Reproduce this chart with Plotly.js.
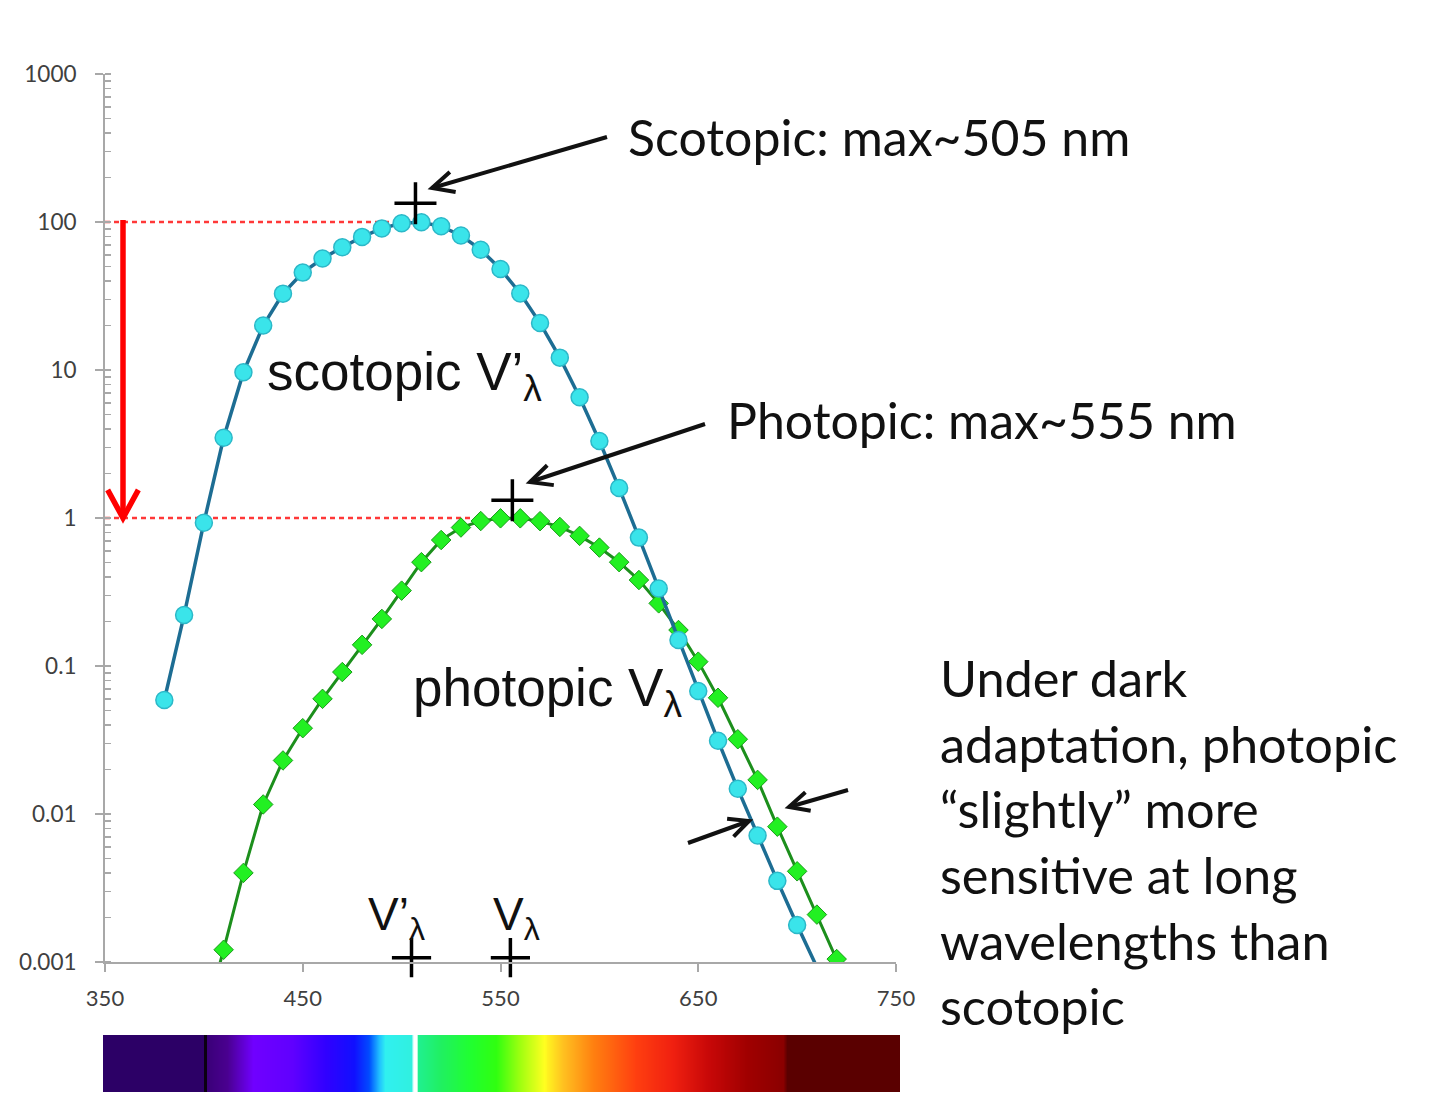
<!DOCTYPE html>
<html>
<head>
<meta charset="utf-8">
<script src="https://cdn.plot.ly/plotly-3.0.1.min.js"></script>
<style>html,body{margin:0;padding:0;background:#fff;}#chart{width:1440px;height:1108px;}</style>
</head>
<body>
<div id="chart"></div>
<script>
// ---------------- data ----------------
const scotopicWavelengths = [380,390,400,410,420,430,440,450,460,470,480,490,500,510,520,530,540,550,560,570,580,590,600,610,620,630,640,650,660,670,680,690,700,710,720];
const scotopicValues = [0.0589,0.2209,0.929,3.484,9.66,19.98,32.81,45.5,56.7,67.6,79.3,90.4,98.2,99.7,93.5,81.1,65.0,48.1,32.88,20.76,12.12,6.55,3.315,1.593,0.737,0.3335,0.1497,0.0677,0.03129,0.0148,0.00715,0.003533,0.00178,0.000914,0.000478];

const photopicWavelengths = [400,410,420,430,440,450,460,470,480,490,500,510,520,530,540,550,560,570,580,590,600,610,620,630,640,650,660,670,680,690,700,710,720,730];
const photopicValues = [0.000396,0.00121,0.0040,0.0116,0.023,0.038,0.060,0.091,0.139,0.208,0.323,0.503,0.710,0.862,0.954,0.995,0.995,0.952,0.870,0.757,0.631,0.503,0.381,0.265,0.175,0.107,0.061,0.032,0.017,0.00821,0.0041,0.00209,0.001047,0.00052];

const xTickVals = [350,450,550,650,750];
const yTickVals = [0.001,0.01,0.1,1,10,100,1000];
const yTickText = ["0.001","0.01","0.1","1","10","100","1000"];

// reference levels (dotted red lines)
const scotopicRefX = [350,502];
const scotopicRefY = [100,100];
const photopicRefX = [350,535];
const photopicRefY = [1,1];

// peak markers
const peakPlusX = [507,556];
const peakPlusY = [134,1.32];
const axisPlusX = [505,555];
const axisPlusY = [0.00107,0.00107];

// visible spectrum colour stops [nm, colour]
const spectrumStops = [
  [349,'#2c0066'],[400,'#2c0066'],[400.3,'#0a0010'],[401.5,'#0a0010'],[401.8,'#3a0078'],
  [412,'#4a0090'],[425,'#7000ff'],[445,'#6000ff'],[462,'#3000ff'],[476,'#1010ff'],
  [484,'#0050ff'],[489,'#20c0ff'],[492,'#30f0f0'],[505,'#30f0e0'],[506.2,'#ffffff'],
  [507.8,'#ffffff'],[508.4,'#20f090'],[520,'#20f060'],[535,'#20ff30'],[548,'#30ff10'],
  [560,'#a0ff10'],[572,'#ffff20'],[582,'#ffc020'],[597,'#ff8010'],[618,'#ff4010'],
  [637,'#f02010'],[655,'#c80808'],[675,'#a00000'],[693,'#8a0000'],[695,'#5a0000'],[752,'#5a0000']
];

// ---------------- layout helpers ----------------
const ML = 103, MR = 540, MT = 74, MB = 16;
const W = 1440 - ML - MR, H = 1108 - MT - MB;
const px = x => (x - ML) / W;
const py = y => 1 - (y - MT) / H;

function arrow(x1, y1, x2, y2, color, width, head, spread) {
  const ang = Math.atan2(y2 - y1, x2 - x1);
  const a1 = ang + Math.PI - spread, a2 = ang + Math.PI + spread;
  const hx1 = x2 + head * Math.cos(a1), hy1 = y2 + head * Math.sin(a1);
  const hx2 = x2 + head * Math.cos(a2), hy2 = y2 + head * Math.sin(a2);
  return [
    {type:'line', xref:'paper', yref:'paper', x0:px(x1), y0:py(y1), x1:px(x2), y1:py(y2),
     line:{color:color, width:width}},
    {type:'path', xref:'paper', yref:'paper',
     path:`M ${px(hx1)},${py(hy1)} L ${px(x2)},${py(y2)} L ${px(hx2)},${py(hy2)}`,
     line:{color:color, width:width}}
  ];
}

const spMin = spectrumStops[0][0], spMax = spectrumStops[spectrumStops.length-1][0];
const spectrumScale = spectrumStops.map(s => [(s[0]-spMin)/(spMax-spMin), s[1]]);
const spectrumX = [];
for (let v = spMin; v <= spMax; v += 0.5) spectrumX.push(v);

// ---------------- traces ----------------
const traces = [
  {x: spectrumX, y: [0], z: [spectrumX], type:'heatmap', xaxis:'x2', yaxis:'y2',
   colorscale: spectrumScale, zmin: spMin, zmax: spMax, showscale:false, hoverinfo:'skip'},
  {x: scotopicRefX, y: scotopicRefY, mode:'lines', line:{color:'#ff3838', width:2.5, dash:'5px,4px'}, hoverinfo:'skip'},
  {x: photopicRefX, y: photopicRefY, mode:'lines', line:{color:'#ff3838', width:2.5, dash:'5px,4px'}, hoverinfo:'skip'},
  {name:'photopic', x: photopicWavelengths, y: photopicValues, mode:'lines+markers',
   line:{color:'#1c8f1c', width:3},
   marker:{symbol:'diamond', size:15, color:'#22f022', line:{color:'#1a9a1a', width:1}}},
  {name:'scotopic', x: scotopicWavelengths, y: scotopicValues, mode:'lines+markers',
   line:{color:'#1d6d93', width:3.5},
   marker:{symbol:'circle', size:17, color:'#3ae4ea', line:{color:'#2cb8c8', width:1.5}}},
  {x: peakPlusX, y: peakPlusY, mode:'markers', cliponaxis:false, hoverinfo:'skip',
   marker:{symbol:'cross-thin', size:30, line:{color:'#000', width:3.5}}},
  {x: axisPlusX, y: axisPlusY, mode:'markers', cliponaxis:false, hoverinfo:'skip',
   marker:{symbol:'cross-thin', size:28, line:{color:'#000', width:3.5}}}
];

// ---------------- annotations / shapes ----------------
const calibri = 'Lato, "Open Sans", sans-serif';
const arial = '"Liberation Sans", Arial, sans-serif';
const annotations = [
  {text:'Scotopic: max~505 nm', xref:'paper', yref:'paper', x:px(626), y:py(137), xanchor:'left', yanchor:'middle',
   showarrow:false, font:{family:calibri, size:50, color:'#111'}},
  {text:'Photopic: max~555 nm', xref:'paper', yref:'paper', x:px(725), y:py(420), xanchor:'left', yanchor:'middle',
   showarrow:false, font:{family:calibri, size:50, color:'#111'}},
  {text:'Under dark<br>adaptation, photopic<br>\u201cslightly\u201d more<br>sensitive at long<br>wavelengths than<br>scotopic',
   xref:'paper', yref:'paper', x:px(938), y:py(841), xanchor:'left', yanchor:'middle', align:'left',
   showarrow:false, font:{family:calibri, size:50.5, color:'#111'}},
  {text:'scotopic V\u2019<sub>\u03bb</sub>', xref:'paper', yref:'paper', x:px(265), y:py(376), xanchor:'left', yanchor:'middle',
   showarrow:false, font:{family:arial, size:53, color:'#111'}},
  {text:'photopic V<sub>\u03bb</sub>', xref:'paper', yref:'paper', x:px(411), y:py(691), xanchor:'left', yanchor:'middle',
   showarrow:false, font:{family:arial, size:53, color:'#111'}},
  {text:'V\u2019<sub>\u03bb</sub>', xref:'paper', yref:'paper', x:px(366), y:py(917), xanchor:'left', yanchor:'middle',
   showarrow:false, font:{family:arial, size:46, color:'#111'}},
  {text:'V<sub>\u03bb</sub>', xref:'paper', yref:'paper', x:px(491), y:py(917), xanchor:'left', yanchor:'middle',
   showarrow:false, font:{family:arial, size:46, color:'#111'}}
];

const shapes = [].concat(
  arrow(607,137,432,188,'#111',4,24,0.45),
  arrow(705,424,530,482,'#111',4,24,0.45),
  arrow(848,790,789,807,'#111',4,22,0.45),
  arrow(688,843,749,821,'#111',4,22,0.45),
  arrow(123,220,123,518,'#ff0000',5.5,32,0.5)
);

const axisGray = '#a8a8a8';
const layout = {
  width:1440, height:1108,
  margin:{l:ML, r:MR, t:MT, b:MB, pad:0},
  paper_bgcolor:'#fff', plot_bgcolor:'rgba(0,0,0,0)',
  showlegend:false,
  xaxis:{domain:[px(105), (896-ML)/W], range:[350,750], tickmode:'array', tickvals:xTickVals,
    ticks:'outside', ticklen:8, tickwidth:2, tickcolor:axisGray, showline:true, linecolor:axisGray, linewidth:2,
    showgrid:false, zeroline:false, anchor:'y', ticklabelstandoff:8,
    tickfont:{family:calibri, size:22, color:'#404040'}},
  yaxis:{type:'log', domain:[(1108-MB-962)/H, 1], range:[-3,3], tickmode:'array', tickvals:yTickVals, ticktext:yTickText,
    ticks:'outside', ticklen:8, tickwidth:2, tickcolor:axisGray, showline:true, linecolor:axisGray, linewidth:2,
    showgrid:false, zeroline:false, anchor:'x', ticklabelstandoff:14,
    tickfont:{family:calibri, size:22.5, color:'#404040'},
    minor:{ticks:'inside', ticklen:6, tickwidth:1.5, tickcolor:axisGray, dtick:'D1', showgrid:false}},
  xaxis2:{domain:[0,1], range:[spMin, spMax], visible:false, anchor:'y2', fixedrange:true},
  yaxis2:{domain:[0, (1092-1035)/H], range:[-0.5,0.5], visible:false, anchor:'x2', fixedrange:true},
  annotations: annotations,
  shapes: shapes
};

Plotly.newPlot('chart', traces, layout, {displayModeBar:false, staticPlot:true});
</script>
</body>
</html>
